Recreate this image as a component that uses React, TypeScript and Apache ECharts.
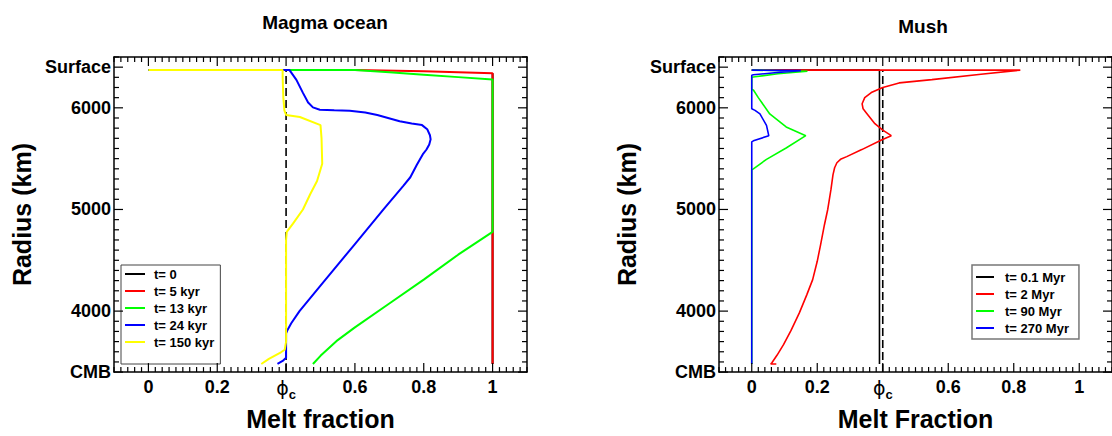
import React, { useEffect, useRef } from "react";
import * as echarts from "echarts";

const FONT = '"Liberation Sans", Arial, Helvetica, sans-serif';

// ---------- Data (melt fraction, radius km) ----------
const magmaNames = ["t= 0", "t= 5 kyr", "t= 13 kyr", "t= 24 kyr", "t= 150 kyr"];
const mushNames = ["t= 0.1 Myr", "t= 2 Myr", "t= 90 Myr", "t= 270 Myr"];

const magmaT0 = [[1, 3480], [1, 6340]];
const magmaT5 = [[0, 6371], [0.6, 6371], [0.8, 6360], [1.0, 6340], [1.0, 3480]];
const magmaT13 = [
  [0, 6371], [0.6, 6371], [0.7, 6350], [0.8, 6326], [0.9, 6302], [1.0, 6278],
  [1.0, 4780], [0.9, 4555], [0.8, 4310], [0.7, 4075], [0.6, 3840], [0.55, 3715],
  [0.5, 3560], [0.478, 3480],
];
const magmaT24 = [
  [0, 6371], [0.41, 6371], [0.43, 6275], [0.449, 6147], [0.464, 6052], [0.478, 6004],
  [0.498, 5981], [0.54, 5976], [0.585, 5972], [0.63, 5955], [0.665, 5930], [0.73, 5868],
  [0.765, 5845], [0.795, 5830], [0.81, 5790], [0.818, 5730], [0.82, 5690], [0.816, 5640],
  [0.808, 5590], [0.797, 5541], [0.78, 5440], [0.761, 5317], [0.74, 5230], [0.683, 5000],
  [0.6, 4660], [0.5, 4250], [0.439, 4000], [0.415, 3880], [0.405, 3820], [0.4, 3780],
  [0.4, 3540], [0.39, 3510], [0.375, 3480],
];
const magmaT150 = [
  [0, 6371], [0.39, 6371], [0.39, 6300], [0.392, 6100], [0.395, 5975], [0.4, 5930],
  [0.44, 5910], [0.5, 5830], [0.503, 5700], [0.505, 5450], [0.49, 5280], [0.47, 5150],
  [0.449, 5000], [0.42, 4860], [0.402, 4780], [0.4, 4700], [0.4, 3700], [0.396, 3620],
  [0.385, 3595], [0.35, 3530], [0.328, 3480],
];

const mushT01 = [[0, 6371], [0.39, 6371], [0.39, 3480]];
const mushT2 = [
  [0, 6371], [0.82, 6371], [0.7, 6330], [0.55, 6277], [0.45, 6245], [0.4, 6200],
  [0.365, 6150], [0.345, 6100], [0.337, 6040], [0.34, 5990], [0.35, 5950], [0.376, 5844],
  [0.4, 5780], [0.426, 5726], [0.396, 5684], [0.336, 5589], [0.29, 5520], [0.271, 5493],
  [0.26, 5460], [0.253, 5410], [0.248, 5340], [0.242, 5200], [0.236, 5080], [0.232, 5000],
  [0.222, 4850], [0.21, 4650], [0.2, 4490], [0.186, 4310], [0.168, 4160], [0.145, 3980],
  [0.12, 3810], [0.097, 3670], [0.077, 3565], [0.062, 3495], [0.058, 3480], [0.075, 3480],
];
const mushT90 = [
  [0, 6371], [0.17, 6360], [0.08, 6335], [0.01, 6305], [0, 6300], [0, 6180],
  [0.005, 6175], [0.02, 6100], [0.055, 5940], [0.105, 5812], [0.165, 5726], [0.105, 5605],
  [0.045, 5493], [0.005, 5400], [0, 5390], [0, 3480],
];
const mushT270 = [
  [0, 6371], [0.15, 6366], [0.07, 6345], [0.005, 6325], [0, 6320], [0, 5990],
  [0.01, 5975], [0.025, 5940], [0.045, 5828], [0.052, 5726], [0.005, 5675], [0, 5665],
  [0, 3480],
];

const phiC = 0.4;
const criticalLine = [[phiC, 3400], [phiC, 6371]];

// ---------- Ticks ----------
const xTickValues = [0, 0.2, 0.4, 0.6, 0.8, 1];
const xTickLabels = ["0", "0.2", "{p|\u03d5}{s|c}", "0.6", "0.8", "1"];
const yTickValues = [3400, 4000, 5000, 6000, 6400];
const yTickLabels = ["CMB", "4000", "5000", "6000", "Surface"];
const xMin = -0.1, xMax = 1.1, yMin = 3400, yMax = 6500;
const xMinorTicks = Array.from({ length: 61 }, (_, i) => Math.round((xMin + i * 0.02) * 1000) / 1000);
const yMinorTicks = Array.from({ length: 32 }, (_, i) => yMin + i * 100);

const COLORS = ["#000000", "#ff0000", "#00ff00", "#0000ff", "#ffff00"];
const MAJOR_LEN = 9;
const MINOR_LEN = 5;

const textBold = { fontWeight: "bold", fontFamily: FONT, color: "#000" };

function xAxis(gridIndex: number, name: string, position: string, withLabel: boolean) {
  return {
    type: "value",
    gridIndex,
    min: xMin,
    max: xMax,
    position,
    splitLine: { show: false },
    axisLine: { show: true, onZero: false, lineStyle: { color: "#000", width: 1.5 } },
    axisTick: { show: false },
    axisLabel: withLabel
      ? {
          show: true,
          customValues: xTickValues,
          margin: 6,
          fontSize: 18,
          ...textBold,
          formatter: (v: number) => {
            const i = xTickValues.findIndex((t) => Math.abs(t - v) < 1e-6);
            return i >= 0 ? xTickLabels[i] : "";
          },
          rich: {
            p: { fontSize: 19, fontWeight: "normal", fontFamily: '"DejaVu Sans", ' + FONT, color: "#000", verticalAlign: "top", lineHeight: 20 },
            s: { fontSize: 13, fontWeight: "bold", fontFamily: FONT, color: "#000", verticalAlign: "top", lineHeight: 14, padding: [10, 0, 0, 0] },
          },
        }
      : { show: false },
    name: withLabel ? name : "",
    nameLocation: "middle",
    nameGap: 28,
    nameTextStyle: { fontSize: 25, ...textBold },
  };
}

function yAxis(gridIndex: number, position: string, withLabel: boolean) {
  return {
    type: "value",
    gridIndex,
    min: yMin,
    max: yMax,
    position,
    splitLine: { show: false },
    axisLine: { show: true, onZero: false, lineStyle: { color: "#000", width: 1.5 } },
    axisTick: { show: false },
    axisLabel: withLabel
      ? {
          show: true,
          customValues: yTickValues,
          margin: 3,
          fontSize: 18,
          ...textBold,
          formatter: (v: number) => {
            const i = yTickValues.indexOf(v);
            return i >= 0 ? yTickLabels[i] : "";
          },
        }
      : { show: false },
    name: withLabel ? "Radius (km)" : "",
    nameLocation: "middle",
    nameRotate: 90,
    nameGap: 80,
    nameTextStyle: { fontSize: 25, ...textBold },
  };
}

// Tick marks on all four sides, placed through the axes' own coordinate system
function xTickSeries(axis: number) {
  return {
    type: "custom",
    xAxisIndex: axis,
    yAxisIndex: axis,
    silent: true,
    clip: false,
    z: 10,
    data: xMinorTicks.map((v) => [v, yMin]),
    renderItem: (params: any, api: any) => {
      const v = api.value(0);
      const isMajor = xTickValues.some((t) => Math.abs(t - v) < 1e-6);
      const len = isMajor ? MAJOR_LEN : MINOR_LEN;
      const b = api.coord([v, yMin]);
      const t = api.coord([v, yMax]);
      const style = { stroke: "#000", lineWidth: 1.2 };
      return {
        type: "group",
        children: [
          { type: "line", shape: { x1: b[0], y1: b[1], x2: b[0], y2: b[1] - len }, style },
          { type: "line", shape: { x1: t[0], y1: t[1], x2: t[0], y2: t[1] + len }, style },
        ],
      };
    },
  };
}

function yTickSeries(axis: number) {
  return {
    type: "custom",
    xAxisIndex: axis,
    yAxisIndex: axis,
    silent: true,
    clip: false,
    z: 10,
    data: yMinorTicks.map((v) => [xMin, v]),
    renderItem: (params: any, api: any) => {
      const v = api.value(1);
      const isMajor = yTickValues.indexOf(v) >= 0;
      const len = isMajor ? MAJOR_LEN : MINOR_LEN;
      const l = api.coord([xMin, v]);
      const r = api.coord([xMax, v]);
      const style = { stroke: "#000", lineWidth: 1.2 };
      return {
        type: "group",
        children: [
          { type: "line", shape: { x1: l[0], y1: l[1], x2: l[0] + len, y2: l[1] }, style },
          { type: "line", shape: { x1: r[0], y1: r[1], x2: r[0] - len, y2: r[1] }, style },
        ],
      };
    },
  };
}

function lineSeries(name: string, data: number[][], color: string, axis: number, width: number, extra: any = {}) {
  return {
    type: "line",
    name,
    data,
    xAxisIndex: axis,
    yAxisIndex: axis,
    symbol: "none",
    showSymbol: false,
    silent: true,
    lineStyle: { color, width, ...extra },
    itemStyle: { color },
  };
}

const magmaData = [magmaT0, magmaT5, magmaT13, magmaT24, magmaT150];
const mushData = [mushT01, mushT2, mushT90, mushT270];

const option: any = {
  animation: false,
  backgroundColor: "#ffffff",
  title: [
    { text: "Magma ocean", left: 320, top: 8, textAlign: "center", textStyle: { fontSize: 19, ...textBold } },
    { text: "Mush", left: 918, top: 12, textAlign: "center", textStyle: { fontSize: 19, ...textBold } },
  ],
  grid: [
    { left: 114, top: 57, width: 413, height: 323 },
    { left: 719, top: 57, width: 399, height: 323 },
  ],
  xAxis: [
    xAxis(0, "Melt fraction", "bottom", true),
    xAxis(0, "", "top", false),
    xAxis(1, "Melt Fraction", "bottom", true),
    xAxis(1, "", "top", false),
  ],
  yAxis: [
    yAxis(0, "left", true),
    yAxis(0, "right", false),
    yAxis(1, "left", true),
    yAxis(1, "right", false),
  ],
  legend: [
    {
      data: magmaNames,
      orient: "vertical",
      left: 121,
      top: 265,
      icon: "rect",
      itemWidth: 20,
      itemHeight: 2,
      itemGap: 3,
      padding: [2, 6, 15, 4],
      borderColor: "#444",
      borderWidth: 1,
      selectedMode: false,
      textStyle: { fontSize: 13, ...textBold, lineHeight: 14, padding: [0, 0, 0, 4] },
    },
    {
      data: mushNames,
      orient: "vertical",
      left: 972,
      top: 265,
      icon: "rect",
      itemWidth: 18,
      itemHeight: 2,
      itemGap: 3,
      padding: [5, 10, 4, 4],
      borderColor: "#777",
      borderWidth: 1.5,
      selectedMode: false,
      textStyle: { fontSize: 13, ...textBold, lineHeight: 14, padding: [0, 0, 0, 6] },
    },
  ],
  series: [
    lineSeries("phi_c_left", criticalLine, "#000", 0, 1.6, { type: [8, 4] }),
    ...magmaData.map((d, i) => lineSeries(magmaNames[i], d, COLORS[i], 0, 2)),
    xTickSeries(0),
    yTickSeries(0),
    lineSeries("phi_c_right", criticalLine, "#000", 2, 1.6, { type: [8, 4] }),
    ...mushData.map((d, i) => lineSeries(mushNames[i], d, COLORS[i], 2, 1.6)),
    xTickSeries(2),
    yTickSeries(2),
  ],
};

export default function App() {
  const ref = useRef<HTMLDivElement>(null);
  useEffect(() => {
    if (!ref.current) return;
    const chart = echarts.init(ref.current, null, { renderer: "svg" });
    chart.setOption(option);
    return () => chart.dispose();
  }, []);
  return (
    <div
      ref={ref}
      style={{ position: "fixed", left: 0, top: 0, width: 1112, height: 436, background: "#fff" }}
    />
  );
}
